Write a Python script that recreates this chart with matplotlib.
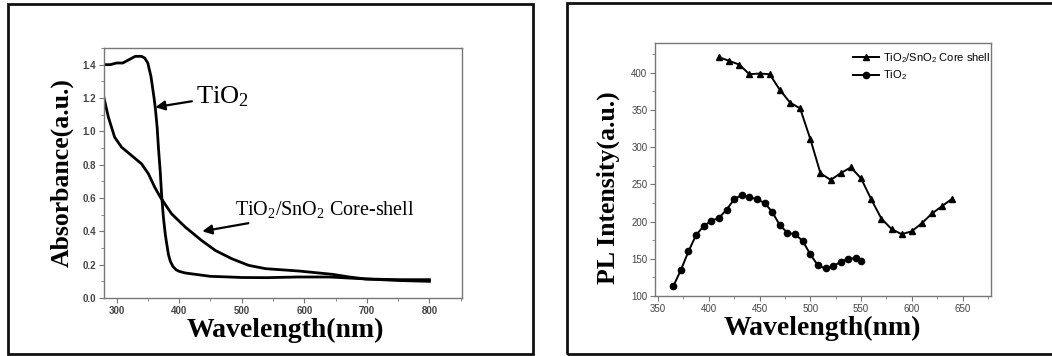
import matplotlib
matplotlib.use('Agg')
import matplotlib.pyplot as plt
from matplotlib.patches import Rectangle
from matplotlib.ticker import MultipleLocator

plt.rcParams['mathtext.default'] = 'regular'

# UV-vis absorbance (left panel)
abs_tio2_wl = [280, 290, 300, 310, 320, 330, 340, 345, 350, 355, 360, 362, 365, 367, 370,
               372, 375, 378, 380, 383, 386, 390, 395, 400, 410, 420, 430, 450, 480,
               500, 540, 590, 640, 700, 750, 800]
abs_tio2 = [1.40, 1.40, 1.41, 1.41, 1.43, 1.45, 1.45, 1.44, 1.41, 1.33, 1.20, 1.14, 1.02, 0.90, 0.75,
            0.62, 0.48, 0.38, 0.33, 0.26, 0.22, 0.19, 0.17, 0.16, 0.15, 0.145, 0.14, 0.13, 0.126,
            0.123, 0.122, 0.126, 0.126, 0.114, 0.105, 0.10]

abs_cs_wl = [280, 287, 297, 308, 324, 340, 351, 361, 370, 388, 410, 436, 458, 484, 511,
             538, 591, 645, 672, 698, 753, 800]
abs_cs = [1.20, 1.085, 0.965, 0.905, 0.855, 0.805, 0.745, 0.665, 0.605, 0.505, 0.425, 0.345,
          0.285, 0.236, 0.196, 0.176, 0.162, 0.142, 0.126, 0.114, 0.11, 0.11]

# Photoluminescence (right panel)
pl_cs_wl = [410, 420, 430, 440, 450, 460, 470, 480, 490, 500, 510, 520, 530, 540, 550,
            560, 570, 580, 590, 600, 610, 620, 630, 640]
pl_cs = [421, 416, 411, 398, 399, 398, 377, 360, 352, 311, 265, 256, 265, 273, 258,
         230, 204, 190, 183, 187, 198, 211, 221, 231]

pl_tio2_wl = [365, 372.5, 380, 387.5, 395, 402.5, 410, 417.5, 425, 432.5, 440, 447.5, 455,
              462.5, 470, 477.5, 485, 492.5, 500, 507.5, 515, 522.5, 530, 537.5, 545, 550]
pl_tio2 = [113, 135, 160, 182, 194, 201, 205, 216, 230, 236, 233, 230, 225,
           213, 195, 185, 183, 174, 156, 141, 137, 140, 146, 150, 151, 147]

serif = 'Liberation Serif'
sans = 'Liberation Sans'
spine_col = '#777777'
tick_col = '#444444'

fig = plt.figure(figsize=(10.52, 3.56), dpi=100)

# Frames around each panel
fig.patches.append(Rectangle((8 / 1052, 1 - 354 / 356), 525 / 1052, 350 / 356,
                             transform=fig.transFigure, fill=False, lw=2, ec='#111111'))
fig.patches.append(Rectangle((567 / 1052, 1 - 354 / 356), 500 / 1052, 351 / 356,
                             transform=fig.transFigure, fill=False, lw=2, ec='#111111'))

ax1 = fig.add_axes([104 / 1052, 58 / 356, 358 / 1052, 250 / 356])
ax2 = fig.add_axes([655 / 1052, 60 / 356, 336 / 1052, 253 / 356])

# Left: absorbance
ax1.plot(abs_tio2_wl, abs_tio2, color='black', lw=2)
ax1.plot(abs_cs_wl, abs_cs, color='black', lw=2)
ax1.set_xlim(280, 852)
ax1.set_ylim(0, 1.5)
ax1.xaxis.set_major_locator(MultipleLocator(100))
ax1.xaxis.set_minor_locator(MultipleLocator(50))
ax1.yaxis.set_major_locator(MultipleLocator(0.2))
ax1.yaxis.set_minor_locator(MultipleLocator(0.1))
ax1.set_yticks([0, 0.2, 0.4, 0.6, 0.8, 1.0, 1.2, 1.4])
ax1.set_yticklabels(['0.0', '0.2', '0.4', '0.6', '0.8', '1.0', '1.2', '1.4'])
ax1.set_xticks([300, 400, 500, 600, 700, 800])

ax1.annotate('TiO$_2$', xy=(362, 1.145), xytext=(427, 1.21),
             fontsize=19, family=serif, va='center', ha='left',
             arrowprops=dict(arrowstyle='-|>', color='black', lw=1.6, mutation_scale=14,
                             shrinkA=1, shrinkB=0))
ax1.annotate('TiO$_2$/SnO$_2$ Core-shell', xy=(437, 0.40), xytext=(489, 0.53),
             fontsize=14.5, family=serif, va='center', ha='left',
             arrowprops=dict(arrowstyle='-|>', color='black', lw=1.6, mutation_scale=14,
                             shrinkA=1, shrinkB=0))

fig.text(62 / 1052, 1 - 173 / 356, 'Absorbance(a.u.)', rotation=90, ha='center', va='center',
         fontsize=18.5, fontweight='bold', family=serif)
fig.text(285 / 1052, 1 - 337 / 356, 'Wavelength(nm)', ha='center', va='baseline',
         fontsize=20, fontweight='bold', family=serif)

# Right: PL
ax2.plot(pl_cs_wl, pl_cs, color='black', lw=1.4, marker='^', ms=4.5,
         label='TiO$_2$/SnO$_2$ Core shell')
ax2.plot(pl_tio2_wl, pl_tio2, color='black', lw=1.4, marker='o', ms=4.5,
         label='TiO$_2$')
ax2.set_xlim(347, 678)
ax2.set_ylim(100, 440)
ax2.xaxis.set_major_locator(MultipleLocator(50))
ax2.xaxis.set_minor_locator(MultipleLocator(25))
ax2.yaxis.set_major_locator(MultipleLocator(50))
ax2.yaxis.set_minor_locator(MultipleLocator(25))
ax2.legend(loc='upper right', bbox_to_anchor=(1.02, 1.0), frameon=False,
           prop={'family': sans, 'size': 8}, handlelength=2.4, handletextpad=0.3,
           labelspacing=0.35, borderaxespad=0.3)

fig.text(608 / 1052, 1 - 188 / 356, 'PL Intensity(a.u.)', rotation=90, ha='center', va='center',
         fontsize=18.5, fontweight='bold', family=serif)
fig.text(822 / 1052, 1 - 335 / 356, 'Wavelength(nm)', ha='center', va='baseline',
         fontsize=20, fontweight='bold', family=serif)

for ax, w in ((ax1, 'bold'), (ax2, 'normal')):
    for s in ax.spines.values():
        s.set_color(spine_col)
        s.set_linewidth(1.0)
    ax.tick_params(which='both', direction='out', colors=spine_col, labelcolor=tick_col,
                   labelsize=7, pad=2)
    ax.tick_params(which='major', length=3.5)
    ax.tick_params(which='minor', length=2)
    for lab in ax.get_xticklabels() + ax.get_yticklabels():
        lab.set_family(sans)
        lab.set_fontweight(w)

fig.savefig('out.png', dpi=100)
